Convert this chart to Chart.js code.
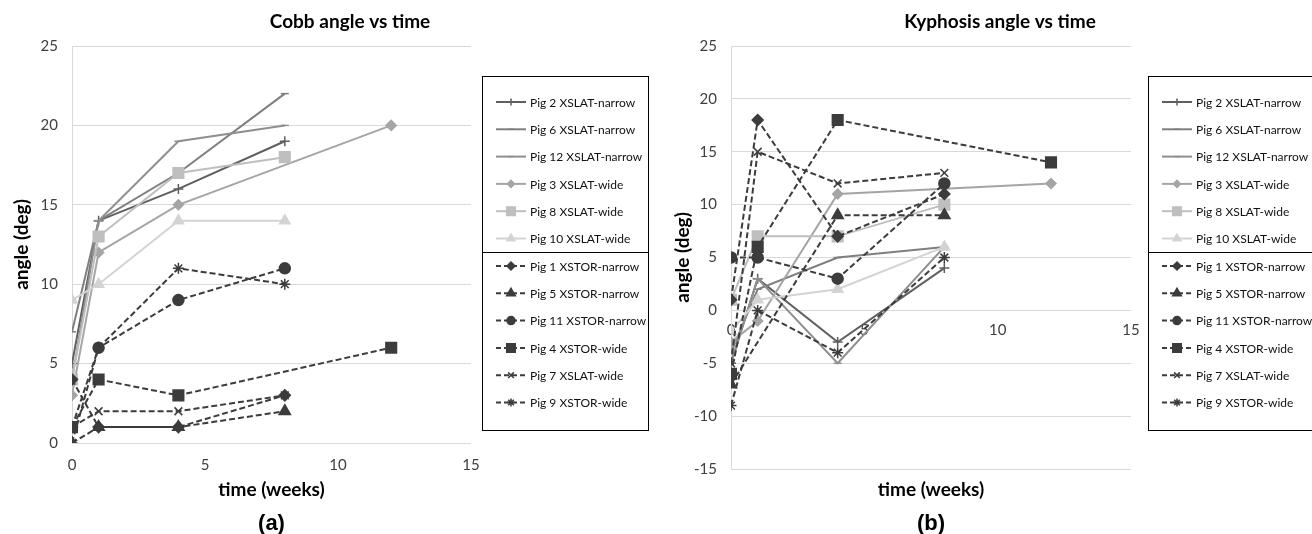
<!DOCTYPE html>
<html>
<head>
<meta charset="utf-8">
<script src="https://cdn.jsdelivr.net/npm/chart.js@4.4.1/dist/chart.umd.min.js"></script>
<style>
  html, body { margin: 0; padding: 0; background: #fff; }
  body { width: 1312px; height: 534px; position: relative; overflow: hidden; }
  canvas { position: absolute; top: 0; }
  #cA { left: 0; }
  #cB { left: 660px; }
</style>
</head>
<body>
<canvas id="cA" width="660" height="534"></canvas>
<canvas id="cB" width="652" height="534"></canvas>
<script>
// ---------- DATA ----------
const weeks = [0, 1, 4, 8, 12];
const seriesNames = [
  'Pig 2 XSLAT-narrow', 'Pig 6 XSLAT-narrow', 'Pig 12 XSLAT-narrow',
  'Pig 3 XSLAT-wide', 'Pig 8 XSLAT-wide', 'Pig 10 XSLAT-wide',
  'Pig 1 XSTOR-narrow', 'Pig 5 XSTOR-narrow', 'Pig 11 XSTOR-narrow',
  'Pig 4 XSTOR-wide', 'Pig 7 XSLAT-wide', 'Pig 9 XSTOR-wide'
];
// Cobb angle (deg) per series at weeks 0,1,4,8,12
const cobbPig2  = [5, 14, 16, 19, null];
const cobbPig6  = [7, 14, 17, 22, null];
const cobbPig12 = [4, 14, 19, 20, null];
const cobbPig3  = [3, 12, 15, null, 20];
const cobbPig8  = [4, 13, 17, 18, null];
const cobbPig10 = [9, 10, 14, 14, null];
const cobbPig1  = [4, 1, 1, 3, null];
const cobbPig5  = [0, 1, 1, 2, null];
const cobbPig11 = [1, 6, 9, 11, null];
const cobbPig4  = [1, 4, 3, null, 6];
const cobbPig7  = [1, 2, 2, 3, null];
const cobbPig9  = [0, 6, 11, 10, null];
// Kyphosis angle (deg)
const kyphPig2  = [-5, 3, -3, 4, null];
const kyphPig6  = [-4, 2, 5, 6, null];
const kyphPig12 = [-5, 3, -5, 6, null];
const kyphPig3  = [-3, -1, 11, null, 12];
const kyphPig8  = [1, 7, 7, 10, null];
const kyphPig10 = [-2, 1, 2, 6, null];
const kyphPig1  = [1, 18, 7, 11, null];
const kyphPig5  = [-7, null, 9, 9, null];
const kyphPig11 = [5, 5, 3, 12, null];
const kyphPig4  = [-6, 6, 18, null, 14];
const kyphPig7  = [-5, 15, 12, 13, null];
const kyphPig9  = [-9, 0, -4, 5, null];

const cobbSeries = [cobbPig2, cobbPig6, cobbPig12, cobbPig3, cobbPig8, cobbPig10,
                    cobbPig1, cobbPig5, cobbPig11, cobbPig4, cobbPig7, cobbPig9];
const kyphSeries = [kyphPig2, kyphPig6, kyphPig12, kyphPig3, kyphPig8, kyphPig10,
                    kyphPig1, kyphPig5, kyphPig11, kyphPig4, kyphPig7, kyphPig9];
const xTicks = [0, 5, 10, 15];
const cobbYTicks = [0, 5, 10, 15, 20, 25];
const kyphYTicks = [-15, -10, -5, 0, 5, 10, 15, 20, 25];

// ---------- STYLES ----------
const DARK = '#3c3c3c';
const styles = [
  { color: '#5f5f5f', point: 'cross',    r: 5, dash: [] },
  { color: '#7f7f7f', point: 'line',     r: 4, dash: [] },
  { color: '#8f8f8f', point: 'line',     r: 4, dash: [] },
  { color: '#a5a5a5', point: 'rectRot',  r: 5, dash: [] },
  { color: '#bfbfbf', point: 'rect',     r: 7.5, dash: [] },
  { color: '#d3d3d3', point: 'triangle', r: 6, dash: [] },
  { color: DARK, point: 'rectRot',  r: 5.5, dash: [6, 3] },
  { color: DARK, point: 'triangle', r: 6.5, dash: [6, 3] },
  { color: DARK, point: 'circle',   r: 5.5, dash: [6, 3] },
  { color: DARK, point: 'rect',     r: 7.5, dash: [6, 3] },
  { color: DARK, point: 'crossRot', r: 5.5, dash: [6, 3] },
  { color: DARK, point: 'star',     r: 5.5, dash: [6, 3] }
];

function buildDatasets(series) {
  const n = series.length;
  return series.map((vals, i) => {
    const s = styles[i];
    return {
      label: seriesNames[i],
      data: weeks.map((w, k) => ({ x: w, y: vals[k] })),
      borderColor: s.color,
      backgroundColor: s.color,
      borderWidth: 2,
      borderDash: s.dash,
      pointStyle: s.point,
      pointRadius: s.r,
      pointHoverRadius: s.r,
      pointBorderWidth: 1.5,
      pointBackgroundColor: s.color,
      pointBorderColor: s.color,
      spanGaps: true,
      tension: 0,
      order: n - i
    };
  });
}

const FONT = 'Lato, "Open Sans", sans-serif';

function drawMarker(ctx, s, x, y) {
  ctx.save();
  ctx.setLineDash([]);
  ctx.fillStyle = s.color;
  ctx.strokeStyle = s.color;
  ctx.lineWidth = 1.5;
  if (Chart.helpers && Chart.helpers.drawPoint) {
    Chart.helpers.drawPoint(ctx, { pointStyle: s.point, radius: Math.max(3, s.r - 1.5), rotation: 0, borderWidth: 1.5 }, x, y);
  }
  ctx.restore();
}

const decor = {
  id: 'decor',
  afterDraw(chart, args, o) {
    const ctx = chart.ctx;
    const ca = chart.chartArea;
    ctx.save();
    ctx.fillStyle = '#000';
    ctx.textAlign = 'center';
    ctx.textBaseline = 'middle';
    // main title
    ctx.font = 'bold 19px ' + FONT;
    ctx.fillText(o.title, o.titleX, 22);
    // x title
    ctx.fillText(o.xTitle, (ca.left + ca.right) / 2, 490);
    // y title
    ctx.save();
    ctx.translate(o.yTitleX, (ca.top + ca.bottom) / 2);
    ctx.rotate(-Math.PI / 2);
    ctx.fillText(o.yTitle, 0, 0);
    ctx.restore();
    // caption
    ctx.font = 'bold 22px "Liberation Sans", Arial, sans-serif';
    ctx.fillText(o.caption, (ca.left + ca.right) / 2, 524);

    // legend box
    const L = o.legend;
    ctx.strokeStyle = '#000';
    ctx.lineWidth = 1;
    ctx.strokeRect(L.x + 0.5, L.y + 0.5, L.w, L.h);
    ctx.beginPath();
    ctx.moveTo(L.x + 0.5, L.y + 176.5);
    ctx.lineTo(L.x + L.w + 0.5, L.y + 176.5);
    ctx.stroke();
    ctx.font = '12px ' + FONT;
    ctx.textAlign = 'left';
    chart.data.datasets.forEach((ds, i) => {
      const s = styles[i];
      const y = i < 6 ? L.y + 26 + i * 27.3 : L.y + 190 + (i - 6) * 27.3;
      ctx.save();
      ctx.strokeStyle = s.color;
      ctx.lineWidth = 2;
      ctx.setLineDash(i < 6 ? [] : [5, 3]);
      ctx.beginPath();
      ctx.moveTo(L.x + 14, y);
      ctx.lineTo(L.x + 44, y);
      ctx.stroke();
      ctx.restore();
      drawMarker(ctx, s, L.x + 29, y);
      ctx.fillStyle = '#111';
      ctx.fillText(ds.label, L.x + 48, y + 1);
    });
    ctx.restore();
  }
};

function makeOptions(cfg) {
  return {
    responsive: false,
    animation: false,
    layout: { padding: cfg.padding },
    plugins: {
      legend: { display: false },
      title: { display: false },
      tooltip: { enabled: false },
      decor: cfg.decor
    },
    scales: {
      x: {
        type: 'linear',
        min: 0, max: 15,
        position: cfg.xPosition,
        z: 1,
        afterBuildTicks: (s) => { s.ticks = xTicks.map(v => ({ value: v })); },
        afterFit: cfg.xFit,
        grid: { display: false, drawTicks: false },
        border: { display: false },
        ticks: { color: '#404040', font: { family: FONT, size: 15 }, padding: cfg.xTickPad, maxRotation: 0 }
      },
      y: {
        type: 'linear',
        min: cfg.yMin, max: cfg.yMax,
        afterBuildTicks: (s) => { s.ticks = cfg.yTicks.map(v => ({ value: v })); },
        afterFit: (s) => { s.width = cfg.yWidth; },
        grid: { color: '#d9d9d9', lineWidth: 1, drawTicks: false },
        border: { display: true, color: '#d9d9d9', width: 1 },
        ticks: { color: '#404040', font: { family: FONT, size: 15 }, padding: 14 }
      }
    }
  };
}

new Chart(document.getElementById('cA'), {
  type: 'line',
  data: { datasets: buildDatasets(cobbSeries) },
  options: makeOptions({
    padding: { top: 46, right: 189, bottom: 0, left: 0 },
    xPosition: 'bottom',
    xFit: (s) => { s.height = 91; },
    xTickPad: 13,
    yMin: 0, yMax: 25, yTicks: cobbYTicks, yWidth: 72,
    decor: {
      title: 'Cobb angle vs time', titleX: 350,
      xTitle: 'time (weeks)', yTitle: 'angle (deg)', yTitleX: 22,
      caption: '(a)',
      legend: { x: 482, y: 76, w: 166, h: 354 }
    }
  }),
  plugins: [decor]
});

new Chart(document.getElementById('cB'), {
  type: 'line',
  data: { datasets: buildDatasets(kyphSeries) },
  options: makeOptions({
    padding: { top: 46, right: 181, bottom: 65, left: 0 },
    xPosition: { y: 0 },
    xFit: undefined,
    xTickPad: 11,
    yMin: -15, yMax: 25, yTicks: kyphYTicks, yWidth: 71,
    decor: {
      title: 'Kyphosis angle vs time', titleX: 340,
      xTitle: 'time (weeks)', yTitle: 'angle (deg)', yTitleX: 23,
      caption: '(b)',
      legend: { x: 488, y: 76, w: 200, h: 354 }
    }
  }),
  plugins: [decor]
});
</script>
</body>
</html>
